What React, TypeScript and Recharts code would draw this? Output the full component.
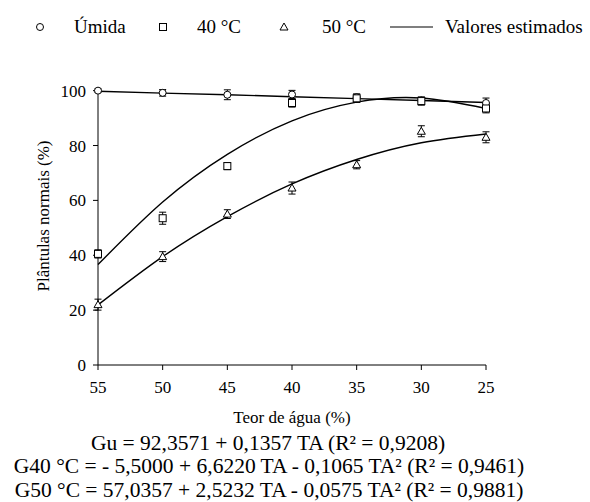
import { ComposedChart, Line, Scatter, ErrorBar, XAxis, YAxis } from "recharts";

const WATER = [55, 50, 45, 40, 35, 30, 25];
const X_TICKS = [55, 50, 45, 40, 35, 30, 25];
const Y_TICKS = [0, 20, 40, 60, 80, 100];

const UMIDA = [100, 99.2, 98.5, 98.6, 97.6, 96.4, 95.5];
const UMIDA_ERR = [0.6, 1.2, 1.8, 1.5, 1.2, 1.2, 1.8];
const G40 = [40.5, 53.5, 72.5, 95.5, 97.2, 96.2, 93.5];
const G40_ERR = [1.5, 2.2, 1.3, 1.5, 1.5, 1.5, 1.6];
const G50 = [22, 39.5, 55, 64.5, 73, 85.2, 83];
const G50_ERR = [2, 1.8, 1.6, 2.2, 1.5, 2, 2];

// estimated (fitted curves), read at each water content
const EST_U = [99.8, 99.1, 98.5, 97.8, 97.1, 96.4, 95.7];
const EST_40 = [36.6, 59.4, 76.8, 89.0, 95.8, 97.3, 93.5];
const EST_50 = [21.9, 39.5, 54.1, 66.0, 74.9, 81.0, 84.2];

const FONT = "Liberation Serif, Times New Roman, serif";

const rows = WATER.map((ta, i) => ({
  ta,
  umida: UMIDA[i],
  umidaErr: UMIDA_ERR[i],
  g40: G40[i],
  g40Err: G40_ERR[i],
  g50: G50[i],
  g50Err: G50_ERR[i],
  estU: EST_U[i],
  est40: EST_40[i],
  est50: EST_50[i],
}));

const CircleDot = (p: any) => (
  <circle cx={p.cx} cy={p.cy} r={3.5} fill="#fff" stroke="#000" strokeWidth={1} />
);
const SquareDot = (p: any) => (
  <rect x={p.cx - 3.5} y={p.cy - 3.5} width={7} height={7} fill="#fff" stroke="#000" strokeWidth={1} />
);
const TriDot = (p: any) => (
  <path
    d={`M${p.cx},${p.cy - 4} L${p.cx + 4},${p.cy + 3} L${p.cx - 4},${p.cy + 3} Z`}
    fill="#fff"
    stroke="#000"
    strokeWidth={1}
  />
);

const tick = { fill: "#000", fontSize: 17, style: { fontFamily: FONT } };

export default function App() {
  return (
    <div
      style={{
        position: "absolute",
        left: 0,
        top: 0,
        width: 590,
        height: 502,
        background: "#fff",
        fontFamily: FONT,
      }}
    >
      <ComposedChart
        width={590}
        height={502}
        data={rows}
        margin={{ top: 89, right: 104, left: 48, bottom: 107 }}
        style={{ fontFamily: FONT }}
      >
        <XAxis
          type="number"
          dataKey="ta"
          domain={[25, 55]}
          reversed
          ticks={X_TICKS}
          tick={tick}
          tickSize={5}
          tickMargin={11}
          stroke="#000"
          height={30}
        />
        <YAxis
          type="number"
          domain={[0, 100]}
          ticks={Y_TICKS}
          tick={tick}
          tickSize={5}
          tickMargin={7}
          stroke="#000"
          width={50}
        />
        <Line dataKey="estU" type="linear" stroke="#000" strokeWidth={1.4} dot={false} isAnimationActive={false} />
        <Line dataKey="est40" type="natural" stroke="#000" strokeWidth={1.4} dot={false} isAnimationActive={false} />
        <Line dataKey="est50" type="natural" stroke="#000" strokeWidth={1.4} dot={false} isAnimationActive={false} />
        <Scatter data={rows} dataKey="umida" shape={CircleDot} isAnimationActive={false}>
          <ErrorBar dataKey="umidaErr" direction="y" width={3.5} stroke="#000" strokeWidth={1} />
        </Scatter>
        <Scatter data={rows} dataKey="g40" shape={SquareDot} isAnimationActive={false}>
          <ErrorBar dataKey="g40Err" direction="y" width={3.5} stroke="#000" strokeWidth={1} />
        </Scatter>
        <Scatter data={rows} dataKey="g50" shape={TriDot} isAnimationActive={false}>
          <ErrorBar dataKey="g50Err" direction="y" width={3.5} stroke="#000" strokeWidth={1} />
        </Scatter>
      </ComposedChart>

      <svg
        width={590}
        height={502}
        style={{ position: "absolute", left: 0, top: 0, pointerEvents: "none", fontFamily: FONT }}
        fill="#000"
      >
        {/* legend */}
        <circle cx={40} cy={27} r={3.5} fill="#fff" stroke="#000" />
        <text x={74} y={33} fontSize={19}>Úmida</text>
        <rect x={159.5} y={23.5} width={7} height={7} fill="#fff" stroke="#000" />
        <text x={197} y={33} fontSize={19}>40 °C</text>
        <path d="M284,23 L288,30 L280,30 Z" fill="#fff" stroke="#000" />
        <text x={322} y={33} fontSize={19}>50 °C</text>
        <line x1={390} x2={433} y1={27} y2={27} stroke="#000" strokeWidth={1.2} />
        <text x={445} y={33} fontSize={19}>Valores estimados</text>

        {/* axis titles */}
        <text x={292} y={423} fontSize={17} textAnchor="middle">Teor de água (%)</text>
        <text x={49} y={216} fontSize={17} textAnchor="middle" transform="rotate(-90 49 216)">
          Plântulas normais (%)
        </text>

        {/* regression equations */}
        <text x={268} y={450} fontSize={21.5} textAnchor="middle">Gu = 92,3571 + 0,1357 TA (R² = 0,9208)</text>
        <text x={269} y={473} fontSize={21.5} textAnchor="middle">G40 °C = - 5,5000 + 6,6220 TA - 0,1065 TA² (R² = 0,9461)</text>
        <text x={269} y={497} fontSize={21.5} textAnchor="middle">G50 °C = 57,0357 + 2,5232 TA - 0,0575 TA² (R² = 0,9881)</text>
      </svg>
    </div>
  );
}
